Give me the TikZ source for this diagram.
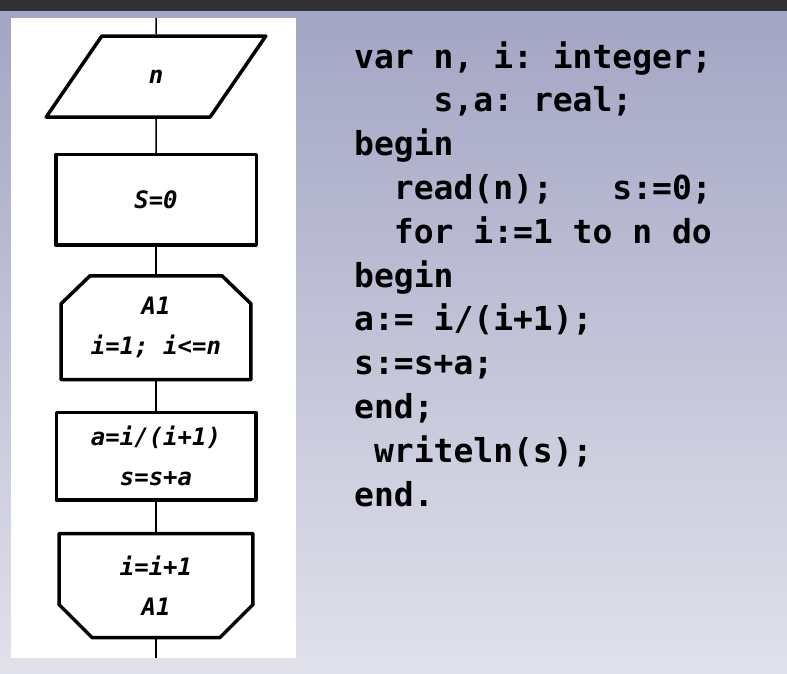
\documentclass[tikz,border=0pt]{standalone}
\usepackage{fontspec}
\setmonofont{DejaVu Sans Mono}
\usepackage{tikz}
\usetikzlibrary{shapes.geometric, positioning, calc}
\definecolor{mybar}{RGB}{50,50,50}
\definecolor{mytop}{RGB}{163,165,196}
\definecolor{mybottom}{RGB}{225,225,235}
\newcommand{\flowfont}{\fontsize{24}{40}\selectfont\ttfamily\bfseries\itshape}
\newcommand{\codefont}{\fontsize{33}{44}\selectfont\ttfamily\bfseries}
\tikzset{
  border/.style={draw=black, line width=3.5pt, line join=round},
  shapebase/.style={fill=white, font=\flowfont, align=center, inner sep=2pt},
  block/.style={shapebase, border, rectangle},
  io/.style={shapebase, border, trapezium, trapezium left angle=61.5,
    trapezium right angle=118.5, trapezium stretches=true,
    minimum width=220pt, minimum height=81pt},
  loopbox/.style={shapebase, rectangle, minimum height=103.5pt},
  line/.style={line width=1.5pt, color=black},
  code/.style={font=\codefont, anchor=base west, inner sep=0pt}
}

\begin{document}
\begin{tikzpicture}[x=1pt, y=-1pt]
  \useasboundingbox (0,0) rectangle (787,673);
  % background
  \fill[mybar] (0,0) rectangle (787,11);
  \shade[top color=mytop, bottom color=mybottom] (0,11) rectangle (787,673);
  \node[fill=white, minimum width=285pt, minimum height=640pt, inner sep=0pt,
    anchor=north west] (panel) at (11,18) {};

  % flowchart
  \node[io] (inp) at (156,76.5) {n};
  \node[block, minimum width=200.5pt, minimum height=90.5pt, below=34pt of inp] (init) {S=0};
  \node[loopbox, minimum width=189.5pt, below=29pt of init] (loopA) {A1\\i=1;\ i<=n};
  \node[block, minimum width=199.5pt, minimum height=87.5pt, below=31pt of loopA] (body) {a=i/(i+1)\\s=s+a};
  \node[loopbox, minimum width=193.5pt, below=32pt of body] (loopE) {i=i+1\\A1};

  % cut corners of the loop boxes
  \draw[border] ($(loopA.north west)+(29,0)$) -- ($(loopA.north east)+(-29,0)$)
    -- ($(loopA.north east)+(0,28)$) -- (loopA.south east) -- (loopA.south west)
    -- ($(loopA.north west)+(0,28)$) -- cycle;
  \draw[border] (loopE.north west) -- (loopE.north east)
    -- ($(loopE.south east)+(0,-33)$) -- ($(loopE.south east)+(-33,0)$)
    -- ($(loopE.south west)+(33,0)$) -- ($(loopE.south west)+(0,-33)$) -- cycle;

  \draw[line] (inp.north |- panel.north) -- (inp);
  \draw[line] (inp) -- (init);
  \draw[line] (init) -- (loopA);
  \draw[line] (loopA) -- (body);
  \draw[line] (body) -- (loopE);
  \draw[line] (loopE) -- (loopE.south |- panel.south);

  % program text
  \foreach \ln [count=\k] in {{var n, i: integer;},
      {\hphantom{0000}s,a: real;}, {begin},
      {\hphantom{00}read(n);\hphantom{000}s:=0;},
      {\hphantom{00}for i:=1 to n do}, {begin},
      {a:= i/(i+1);}, {s:=s+a;}, {end;},
      {\hphantom{0}writeln(s);}, {end.}}
    \node[code] (c\k) at (354, {68+43.8*(\k-1)}) {\ln};
\end{tikzpicture}
\end{document}
